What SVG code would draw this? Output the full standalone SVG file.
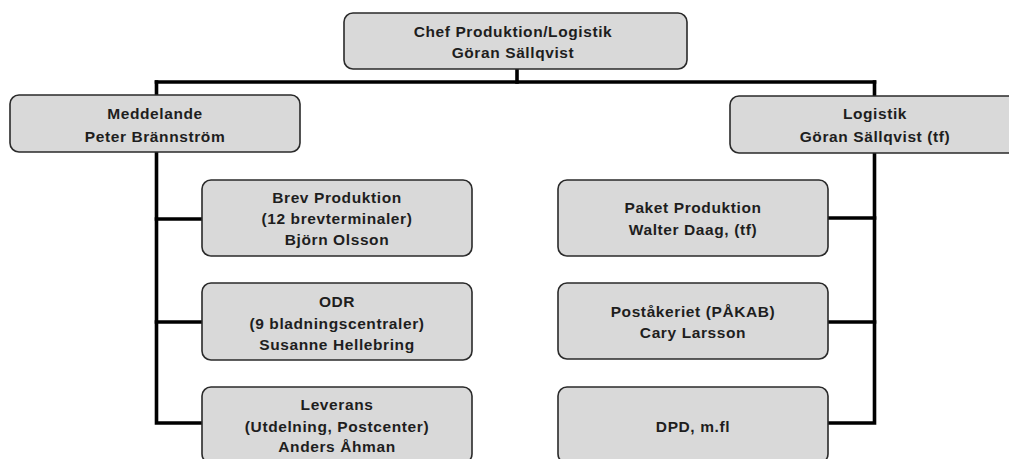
<svg xmlns="http://www.w3.org/2000/svg" width="1009" height="459" viewBox="0 0 1009 459">
<style>
.box{fill:#d9d9d9;stroke:#2a2a2a;stroke-width:1.6}
.t{font-family:"Liberation Sans",Arial,sans-serif;font-weight:bold;font-size:15.5px;letter-spacing:0.6px;fill:#1e1e1e;text-anchor:middle}
.c{fill:none;stroke:#000;stroke-width:3.6;stroke-linejoin:miter;stroke-linecap:square}
</style>
<rect width="1009" height="459" fill="#fff"/>
<g id="connectors">
<path class="c" d="M517 70 V82"/>
<path class="c" d="M156.5 82 H874.5"/>
<path class="c" d="M156.5 82 V423 H202"/>
<path class="c" d="M156.5 219 H202"/>
<path class="c" d="M156.5 322 H202"/>
<path class="c" d="M874.5 82 V423 H829"/>
<path class="c" d="M874.5 218 H829"/>
<path class="c" d="M874.5 322 H829"/>
</g>
<g id="chef">
<rect class="box" x="344" y="13" width="343" height="56" rx="9"/>
<text class="t" x="513" y="37">Chef Produktion/Logistik</text>
<text class="t" x="513" y="58">Göran Sällqvist</text>
</g>
<g id="meddelande">
<rect class="box" x="10" y="95" width="290" height="57" rx="9"/>
<text class="t" x="155" y="119">Meddelande</text>
<text class="t" x="155" y="142">Peter Brännström</text>
</g>
<g id="logistik">
<rect class="box" x="730" y="96" width="290" height="57" rx="9"/>
<text class="t" x="875" y="119">Logistik</text>
<text class="t" x="875" y="142">Göran Sällqvist (tf)</text>
</g>
<g id="brev">
<rect class="box" x="202" y="180" width="270" height="76" rx="9"/>
<text class="t" x="337" y="203">Brev Produktion</text>
<text class="t" x="337" y="224">(12 brevterminaler)</text>
<text class="t" x="337" y="245">Björn Olsson</text>
</g>
<g id="odr">
<rect class="box" x="202" y="283" width="270" height="77" rx="9"/>
<text class="t" x="337" y="307">ODR</text>
<text class="t" x="337" y="329">(9 bladningscentraler)</text>
<text class="t" x="337" y="350">Susanne Hellebring</text>
</g>
<g id="leverans">
<rect class="box" x="202" y="387" width="270" height="76" rx="9"/>
<text class="t" x="337" y="410">Leverans</text>
<text class="t" x="337" y="432">(Utdelning, Postcenter)</text>
<text class="t" x="337" y="452">Anders Åhman</text>
</g>
<g id="paket">
<rect class="box" x="558" y="180" width="270" height="76" rx="9"/>
<text class="t" x="693" y="213">Paket Produktion</text>
<text class="t" x="693" y="235">Walter Daag, (tf)</text>
</g>
<g id="postakeriet">
<rect class="box" x="558" y="283" width="270" height="76" rx="9"/>
<text class="t" x="693" y="317">Poståkeriet (PÅKAB)</text>
<text class="t" x="693" y="338">Cary Larsson</text>
</g>
<g id="dpd">
<rect class="box" x="558" y="387" width="270" height="76" rx="9"/>
<text class="t" x="693" y="432">DPD, m.fl</text>
</g>
</svg>
